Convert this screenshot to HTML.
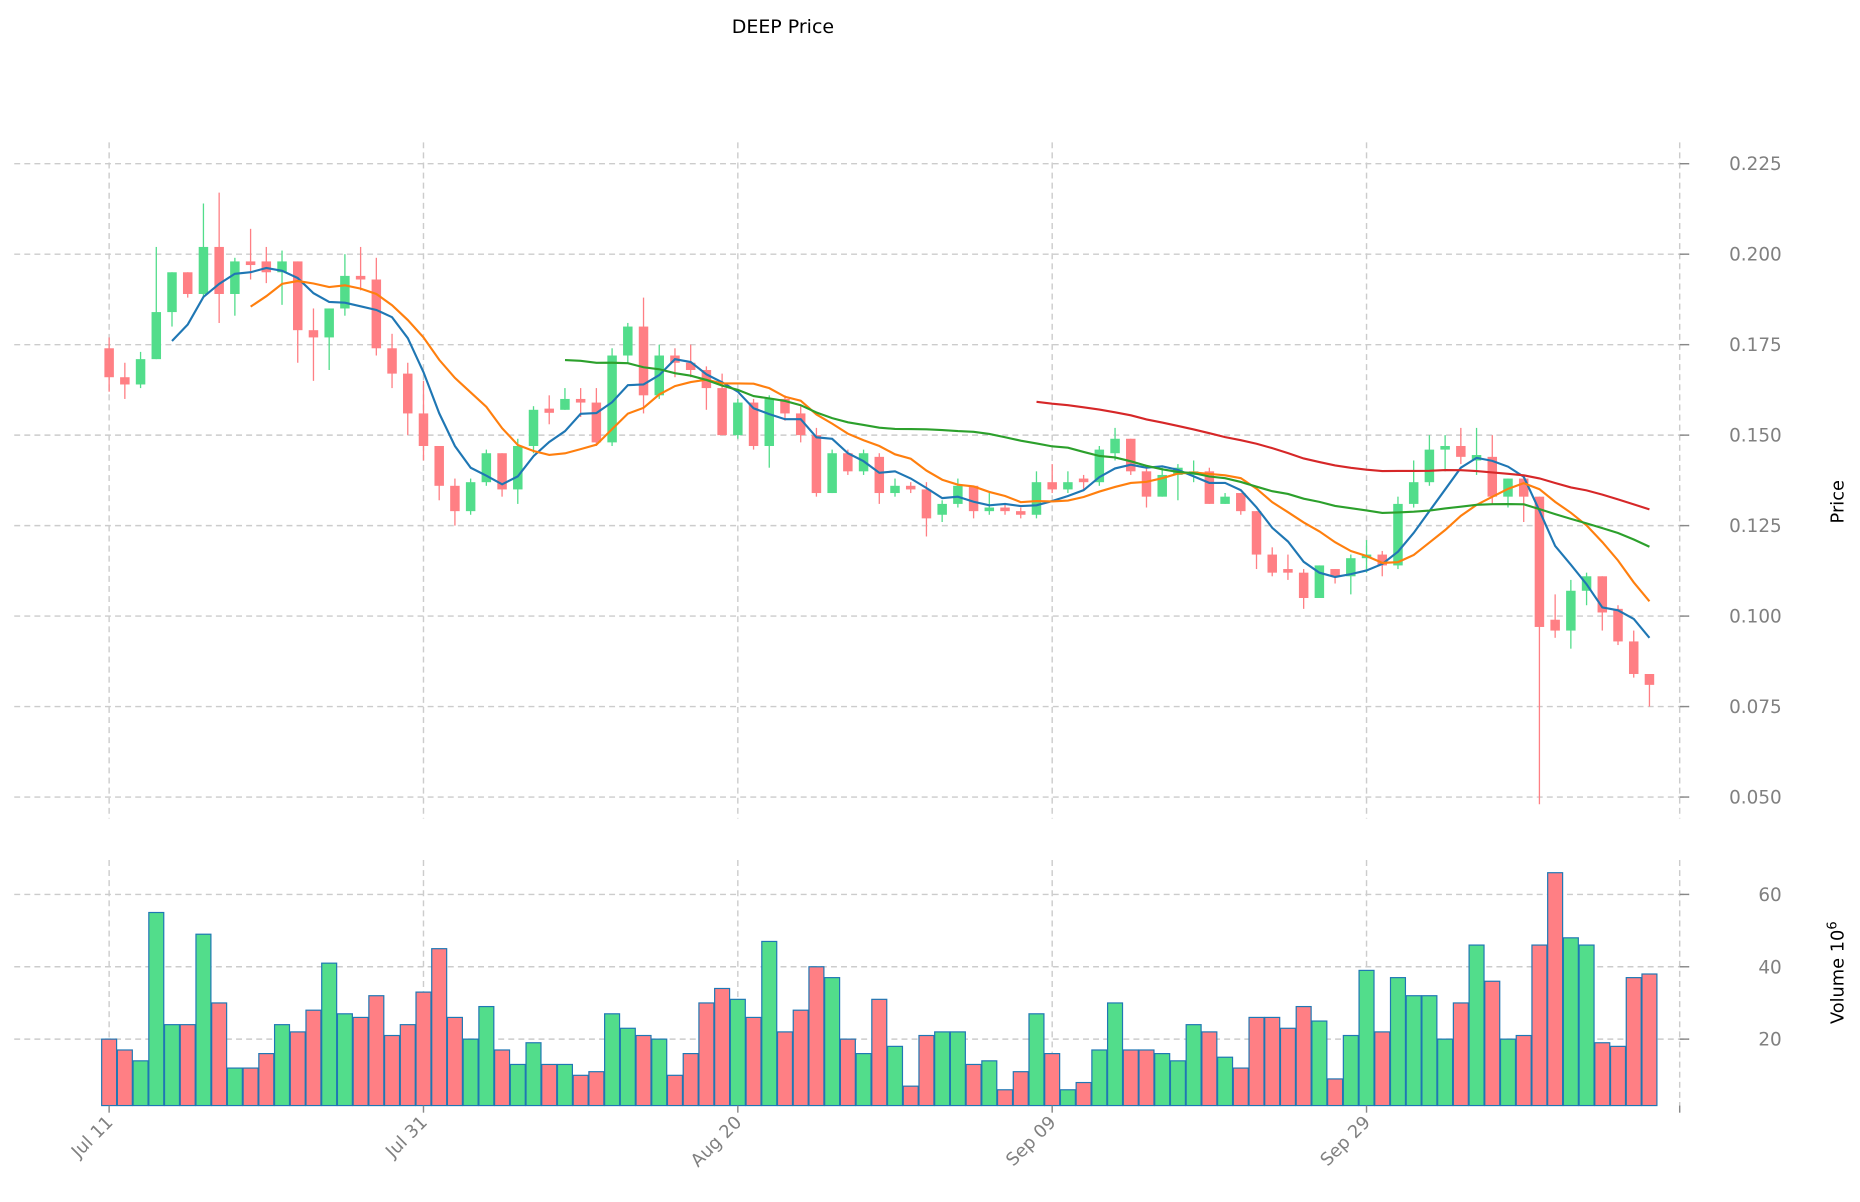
<!DOCTYPE html>
<html><head><meta charset="utf-8"><style>
html,body{margin:0;padding:0;background:#fff;}
svg{display:block;}
text{font-family:"DejaVu Sans","Liberation Sans",sans-serif;}
</style></head><body>
<svg id="c" width="1860" height="1202" viewBox="0 0 1568 1013.3" xmlns="http://www.w3.org/2000/svg">
<text x="660" y="28" font-size="16" text-anchor="middle" fill="#000">DEEP Price</text>
<g id="grid"></g>
<g id="vol"></g>
<g id="cand"></g>
<g id="ma"></g>
<g id="ax"></g>
<text transform="translate(1554,423) rotate(-90)" font-size="15" text-anchor="middle" fill="#000">Price</text>
<text transform="translate(1554,820) rotate(-90)" font-size="15" text-anchor="middle" fill="#000">Volume  10<tspan dy="-6" font-size="11">6</tspan></text>
</svg>
<script>
var D=[
[.174,.166,.177,.162,20],[.166,.164,.170,.160,17],[.164,.171,.173,.163,14],[.171,.184,.202,.171,55],[.184,.195,.195,.180,24],
[.195,.189,.195,.188,24],[.189,.202,.214,.188,49],[.202,.189,.217,.181,30],[.189,.198,.199,.183,12],[.198,.197,.207,.193,12],
[.198,.195,.202,.192,16],[.195,.198,.201,.186,24],[.198,.179,.198,.170,22],[.179,.177,.185,.165,28],[.177,.185,.185,.168,41],
[.185,.194,.200,.183,27],[.194,.193,.202,.190,26],[.193,.174,.199,.172,32],[.174,.167,.178,.163,21],[.167,.156,.170,.150,24],
[.156,.147,.165,.143,33],[.147,.136,.147,.132,45],[.136,.129,.138,.125,26],[.129,.137,.138,.128,20],[.137,.145,.146,.136,29],
[.145,.135,.145,.133,17],[.135,.147,.149,.131,13],[.147,.157,.158,.145,19],[.157,.1565,.161,.153,13],[.157,.160,.163,.157,13],
[.160,.159,.163,.155,10],[.159,.148,.163,.147,11],[.148,.172,.174,.147,27],[.172,.180,.181,.170,23],[.180,.161,.188,.156,21],
[.161,.172,.175,.160,20],[.172,.170,.174,.166,10],[.170,.168,.175,.166,16],[.168,.163,.169,.157,30],[.163,.150,.167,.150,34],
[.150,.159,.160,.149,31],[.159,.147,.160,.146,26],[.147,.160,.161,.141,47],[.160,.156,.161,.154,22],[.156,.150,.158,.148,28],
[.150,.134,.152,.133,40],[.134,.145,.146,.134,37],[.145,.140,.146,.139,20],[.140,.145,.146,.139,16],[.144,.134,.145,.131,31],
[.134,.136,.138,.133,18],[.136,.135,.137,.134,7],[.135,.127,.137,.122,21],[.128,.131,.132,.126,22],[.131,.136,.138,.130,22],
[.136,.129,.136,.127,13],[.129,.130,.134,.128,14],[.130,.129,.131,.128,6],[.129,.128,.130,.127,11],[.128,.137,.140,.127,27],
[.137,.135,.142,.134,16],[.135,.137,.140,.134,6],[.138,.137,.139,.135,8],[.137,.146,.147,.136,17],[.145,.149,.152,.143,30],
[.149,.140,.149,.139,17],[.140,.133,.141,.130,17],[.133,.139,.141,.133,16],[.139,.141,.142,.132,14],[.139,.140,.143,.137,24],
[.140,.131,.141,.131,22],[.131,.133,.134,.131,15],[.134,.129,.134,.128,12],[.129,.117,.129,.113,26],[.117,.112,.119,.111,26],
[.113,.112,.117,.110,23],[.112,.105,.113,.102,29],[.105,.114,.114,.105,25],[.113,.111,.113,.109,9],[.111,.116,.117,.106,21],
[.116,.117,.121,.112,39],[.117,.114,.118,.111,22],[.114,.131,.133,.113,37],[.131,.137,.143,.130,32],[.137,.146,.150,.136,32],
[.146,.147,.150,.140,20],[.147,.144,.152,.142,30],[.143,.1445,.152,.139,46],[.144,.133,.150,.131,36],[.133,.138,.138,.130,20],
[.138,.133,.138,.126,21],[.133,.097,.133,.048,46],[.099,.096,.106,.094,66],[.096,.107,.110,.091,48],[.107,.111,.112,.103,46],
[.111,.101,.111,.096,19],[.102,.093,.103,.092,18],[.093,.084,.096,.083,37],[.084,.081,.084,.075,38]];
var NS="http://www.w3.org/2000/svg";
function el(p,t,a){var e=document.createElementNS(NS,t);for(var k in a)e.setAttribute(k,a[k]);p.appendChild(e);return e;}
function X(i){return 92+13.25*i;}
function Y(p){return 138+(0.225-p)*3051;}
function V(v){return 937-v*3.05;}
var G=document.getElementById('grid'),VO=document.getElementById('vol'),C=document.getElementById('cand'),M=document.getElementById('ma'),A=document.getElementById('ax');
var gs={stroke:'#cccccc','stroke-width':1.2,'stroke-dasharray':'5,3.5',fill:'none'};
var xs=[92,357,622,887,1152,1416];
xs.forEach(function(x){var a=Object.assign({x1:x,x2:x,y1:120,y2:690},gs);el(G,'line',a);a=Object.assign({x1:x,x2:x,y1:725,y2:932},gs);el(G,'line',a);});
[.225,.2,.175,.15,.125,.1,.075,.05].forEach(function(p){var y=Y(p);el(G,'line',Object.assign({x1:12,x2:1424,y1:y,y2:y},gs));
el(A,'line',{x1:1416,x2:1424,y1:y,y2:y,stroke:'#888','stroke-width':1.2});
var t=el(A,'text',{x:1502,y:y+5.5,'font-size':15.5,'text-anchor':'end',fill:'#808080'});t.textContent=p.toFixed(3);});
[20,40,60].forEach(function(v){var y=V(v);el(G,'line',Object.assign({x1:12,x2:1424,y1:y,y2:y},gs));
el(A,'line',{x1:1416,x2:1424,y1:y,y2:y,stroke:'#888','stroke-width':1.2});
var t=el(A,'text',{x:1502,y:y+5.5,'font-size':15.5,'text-anchor':'end',fill:'#808080'});t.textContent=v;});
el(A,'line',{x1:1416,x2:1416,y1:932,y2:938,stroke:'#888','stroke-width':1.2});
var labs=['Jul 11','Jul 31','Aug 20','Sep 09','Sep 29'];
labs.forEach(function(l,i){var x=xs[i];el(A,'line',{x1:x,x2:x,y1:932,y2:938,stroke:'#888','stroke-width':1.2});
var t=el(A,'text',{transform:'translate('+(x+4)+',947) rotate(-45)','font-size':15,'text-anchor':'end',fill:'#808080'});t.textContent=l;});
var GR='#52dd8b',RD='#ff7f84';
D.forEach(function(d,i){var x=X(i),up=d[1]>=d[0],c=up?GR:RD;
var top=V(d[4]);el(VO,'rect',{x:x-6.3,y:top,width:12.6,height:932-top,fill:c,stroke:'#1f77b4','stroke-width':1});
el(C,'line',{x1:x,x2:x,y1:Y(d[2]),y2:Y(d[3]),stroke:c,'stroke-width':1.1});
var y1=Y(Math.max(d[0],d[1])),y2=Y(Math.min(d[0],d[1]));if(y2-y1<2){y1-=1;y2+=1;}
el(C,'rect',{x:x-4,y:y1,width:8,height:y2-y1,fill:c});});
function ma(n,col){var pts=[];for(var i=n-1;i<D.length;i++){var s=0;for(var j=i-n+1;j<=i;j++)s+=D[j][1];pts.push(X(i).toFixed(1)+','+Y(s/n).toFixed(1));}
el(M,'polyline',{points:pts.join(' '),fill:'none',stroke:col,'stroke-width':1.8});}
ma(5,'#1f77b4');ma(10,'#ff7f0e');ma(30,'#2ca02c');ma(60,'#d62728');
</script>
</body></html>
